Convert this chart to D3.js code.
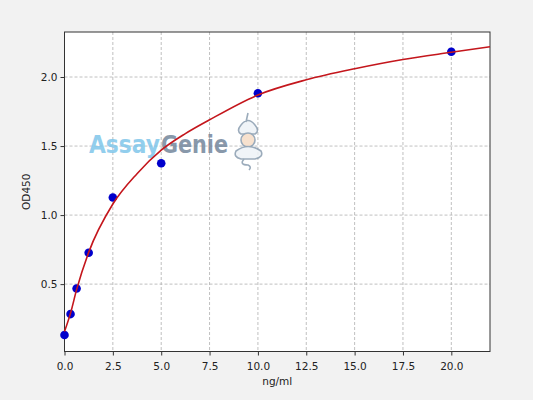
<!DOCTYPE html>
<html>
<head>
<meta charset="utf-8">
<script src="https://cdn.jsdelivr.net/npm/d3@7"></script>
<style>
  body { margin: 0; background: #f2f2f2; }
  svg { display: block; font-family: "DejaVu Sans", sans-serif; }
</style>
</head>
<body>
<div id="chart"></div>
<script>
// Standard curve data
const concentrations = [0, 0.3125, 0.625, 1.25, 2.5, 5, 10, 20];
const odValues = [0.131, 0.283, 0.468, 0.727, 1.127, 1.375, 1.882, 2.183];

// Fitted curve, read at a few points
const curveX = [0, 0.3125, 0.625, 1.25, 2.5, 3.75, 5, 6.25, 7.5, 10, 12.5, 15, 17.5, 20, 22];
const curveY = [0.157, 0.29, 0.46, 0.73, 1.08, 1.30, 1.47, 1.59, 1.69, 1.87, 1.98, 2.06, 2.127, 2.179, 2.219];

const xTicks = [0, 2.5, 5, 7.5, 10, 12.5, 15, 17.5, 20];
const yTicks = [0.5, 1.0, 1.5, 2.0];

const width = 533;
const height = 400;
const margin = {left: 64.5, right: 43, top: 32, bottom: 48.5};

const svg = d3.select("#chart")
  .append("svg")
  .attr("width", width)
  .attr("height", height);

// scales
const x = d3.scaleLinear()
  .domain([0, 22])
  .range([margin.left, width - margin.right]);

const y = d3.scaleLinear()
  .domain([0.012, 2.326])
  .range([height - margin.bottom, margin.top]);

// plot area
svg.append("rect")
  .attr("x", margin.left)
  .attr("y", margin.top)
  .attr("width", width - margin.left - margin.right)
  .attr("height", height - margin.top - margin.bottom)
  .attr("fill", "#ffffff");

// grid
svg.append("g")
  .selectAll("line")
  .data(xTicks)
  .join("line")
  .attr("x1", d => x(d)).attr("x2", d => x(d))
  .attr("y1", margin.top).attr("y2", height - margin.bottom)
  .attr("stroke", "#b0b0b0")
  .attr("stroke-width", 0.8)
  .attr("stroke-dasharray", "3,2");

svg.append("g")
  .selectAll("line")
  .data(yTicks)
  .join("line")
  .attr("x1", margin.left).attr("x2", width - margin.right)
  .attr("y1", d => y(d)).attr("y2", d => y(d))
  .attr("stroke", "#b0b0b0")
  .attr("stroke-width", 0.8)
  .attr("stroke-dasharray", "3,2");

// watermark
const logo = svg.append("g").attr("opacity", 0.85);
logo.append("text")
  .attr("x", 89).attr("y", 153)
  .attr("font-size", "24px")
  .attr("font-weight", "bold")
  .attr("textLength", 71)
  .attr("lengthAdjust", "spacingAndGlyphs")
  .attr("fill", "#7fc6ea")
  .text("Assay");
logo.append("text")
  .attr("x", 161).attr("y", 153)
  .attr("font-size", "24px")
  .attr("font-weight", "bold")
  .attr("textLength", 67)
  .attr("lengthAdjust", "spacingAndGlyphs")
  .attr("fill", "#74879c")
  .text("Genie");

// little genie icon
const icon = logo.append("g")
  .attr("fill", "none")
  .attr("stroke", "#8a9db0")
  .attr("stroke-width", 1.6);
icon.append("path").attr("d", "M248,113 L246,122 M241,125 Q248,116 255,125 Q260,131 255,134 L241,134 Q236,131 241,125 Z").attr("fill", "#eef3f7");
icon.append("circle").attr("cx", 248).attr("cy", 140).attr("r", 7).attr("fill", "#f6dcc6");
icon.append("path").attr("d", "M236,151 Q248,142 261,151 Q264,157 255,159 L241,159 Q233,157 236,151 Z").attr("fill", "#eef3f7");
icon.append("path").attr("d", "M244,159 Q239,165 248,165 Q252,167 249,170");

// axes
const xAxis = svg.append("g")
  .attr("transform", `translate(0,${height - margin.bottom})`)
  .call(d3.axisBottom(x).tickValues(xTicks).tickFormat(d3.format(".1f")).tickSizeOuter(0).tickSize(4));

const yAxis = svg.append("g")
  .attr("transform", `translate(${margin.left},0)`)
  .call(d3.axisLeft(y).tickValues(yTicks).tickFormat(d3.format(".1f")).tickSizeOuter(0).tickSize(4));

[xAxis, yAxis].forEach(g => {
  g.select(".domain").remove();
  g.selectAll("line").attr("stroke", "#333");
  g.selectAll("text")
    .attr("fill", "#222")
    .attr("font-size", "10.5px")
    .attr("font-family", "DejaVu Sans, sans-serif");
});
xAxis.selectAll("text").attr("dy", "1.05em");

// frame
svg.append("rect")
  .attr("x", margin.left)
  .attr("y", margin.top)
  .attr("width", width - margin.left - margin.right)
  .attr("height", height - margin.top - margin.bottom)
  .attr("fill", "none")
  .attr("stroke", "#333")
  .attr("stroke-width", 1);

// points
svg.append("g")
  .selectAll("circle")
  .data(concentrations)
  .join("circle")
  .attr("cx", d => x(d))
  .attr("cy", (d, i) => y(odValues[i]))
  .attr("r", 4.3)
  .attr("fill", "#0000cc");

// fitted curve
const line = d3.line()
  .x((d, i) => x(d))
  .y((d, i) => y(curveY[i]))
  .curve(d3.curveMonotoneX);

svg.append("path")
  .datum(curveX)
  .attr("d", line)
  .attr("fill", "none")
  .attr("stroke", "#c4161c")
  .attr("stroke-width", 1.6);

// labels
svg.append("text")
  .attr("x", (margin.left + width - margin.right) / 2)
  .attr("y", 385)
  .attr("text-anchor", "middle")
  .attr("font-size", "10.5px")
  .attr("fill", "#222")
  .text("ng/ml");

svg.append("text")
  .attr("transform", `translate(30,${(margin.top + height - margin.bottom) / 2}) rotate(-90)`)
  .attr("text-anchor", "middle")
  .attr("font-size", "10.5px")
  .attr("fill", "#222")
  .text("OD450");
</script>
</body>
</html>
